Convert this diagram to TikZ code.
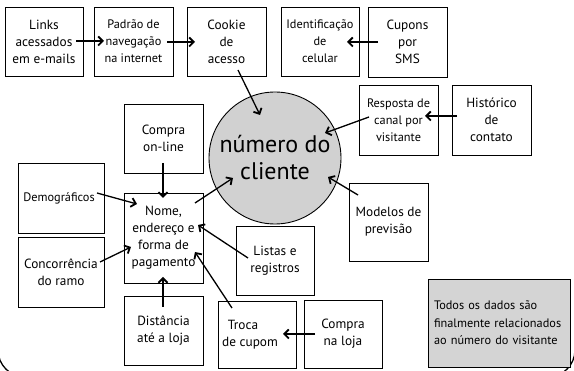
\documentclass[tikz,border=0pt]{standalone}
\usepackage{fontspec}
\setmainfont{PT Sans}
\usetikzlibrary{arrows.meta,calc}
\begin{document}
\begin{tikzpicture}[x=1pt,y=-1pt,
  bx/.style={draw, line width=0.9pt, align=center, inner sep=1pt, fill=white,
    font=\fontsize{13.3}{17}\selectfont},
  sm/.style={font=\fontsize{12.3}{17}\selectfont},
  ar/.style={line width=1.3pt, -{Straight Barb[length=4.5pt,width=9pt,line width=1.8pt]}},
  sz/.style 2 args={minimum width=#1pt, minimum height=#2pt}]
\useasboundingbox (0,0) rectangle (574,371);
\begin{scope}
\clip (0,0) rectangle (574,371);
\draw[line width=1.3pt, rounded corners=27pt] (-2,-60) rectangle (575,377);
\end{scope}
% nodes
\node[bx, sz={78}{69}] (links) at (44,41.5) {Links\\acessados\\em e-mails};
\node[bx, sm, sz={79}{69}] (padrao) at (133.5,41.5) {Padrão de\\navegação\\na internet};
\node[bx, sz={79}{69}] (cookie) at (226.5,41.5) {Cookie\\de\\acesso};
\node[bx, sm, sz={78}{69}] (ident) at (320,41.5) {Identificação\\de\\celular};
\node[bx, sz={79}{70}] (cupons) at (407.5,42) {Cupons\\por\\SMS};
\node[bx, sm, sz={79}{70}] (resp) at (398.5,120) {Resposta de\\canal por\\visitante};
\node[bx, sz={79}{70}] (hist) at (491.5,120) {Histórico\\de\\contato};
\node[draw, circle, line width=0.9pt, fill=black!18, minimum size=132pt, inner sep=0pt,
  align=center, font=\fontsize{24}{27}\selectfont] (num) at (275,158) {número do\\cliente};
\node[bx, sz={79}{69}] (compraon) at (163.5,138.5) {Compra\\on-line};
\node[bx, sm, sz={86}{70}] (demo) at (61,198) {Demográficos\hspace*{4pt}};
\node[bx, sz={79}{90}] (nome) at (163.5,238) {Nome,\\endereço e\\forma de\\pagamento};
\node[bx, sz={86}{70}] (conc) at (61,272) {Concorrência\\do ramo};
\node[bx, sz={79}{69}] (dist) at (163.5,330.5) {Distância\\até a loja};
\node[bx, sz={78}{67}] (troca) at (257,334.5) {Troca\hspace*{28pt}\\de cupom\hspace*{14pt}};
\node[bx, sz={78}{68}] (compraloja) at (343,334) {Compra\\na loja};
\node[bx, sz={78}{69}] (listas) at (275,260.5) {Listas e\\registros};
\node[bx, sz={79}{78}] (modelos) at (388.5,222) {Modelos de\\previsão};
\node[draw, line width=0.9pt, fill=black!17, sz={142}{88}, align=left, inner sep=1pt,
  text width=130pt, font=\fontsize{12.3}{17.5}\selectfont] (note) at (499,323)
  {Todos os dados são\\finalmente relacionados\\ao número do visitante};
% arrows
\draw[ar] ($(links.center)+(32,-0.5)$) -- ($(padrao.center)+(-29.5,-0.5)$);
\draw[ar] ($(padrao.center)+(33.5,0.5)$) -- ($(cookie.center)+(-31.5,0.5)$);
\draw[ar] ($(cookie.center)+(11.5,28.5)$) -- ($(num.center)+(-15,-43)$);
\draw[ar] ($(cupons.center)+(-29.5,0)$) -- ($(ident.center)+(27,0.5)$);
\draw[ar] ($(hist.center)+(-34.5,-4)$) -- ($(resp.center)+(26.5,-4)$);
\draw[ar] ($(resp.center)+(-29.5,-3)$) -- ($(num.center)+(50,-25)$);
\draw[ar] ($(modelos.center)+(-30.5,-27)$) -- ($(num.center)+(53,19)$);
\draw[ar] ($(nome.center)+(31.5,-35)$) -- ($(num.center)+(-42,20)$);
\draw[ar] ($(compraon.center)+(-0.5,24.5)$) -- ($(nome.center)+(-0.5,-40)$);
\draw[ar] ($(demo.center)+(36,-5)$) -- ($(nome.center)+(-26.5,-34)$);
\draw[ar] ($(conc.center)+(39,-10)$) -- ($(nome.center)+(-32.5,9)$);
\draw[ar] ($(dist.center)+(-0.5,-23.5)$) -- ($(nome.center)+(-0.5,39)$);
\draw[ar] ($(listas.center)+(-27,-2.5)$) -- ($(nome.center)+(34.5,-13)$);
\draw[ar] ($(troca.center)+(-25,-26.5)$) -- ($(nome.center)+(31.5,14)$);
\draw[ar] ($(compraloja.center)+(-28,0)$) -- ($(troca.center)+(26,-0.5)$);
\end{tikzpicture}
\end{document}
